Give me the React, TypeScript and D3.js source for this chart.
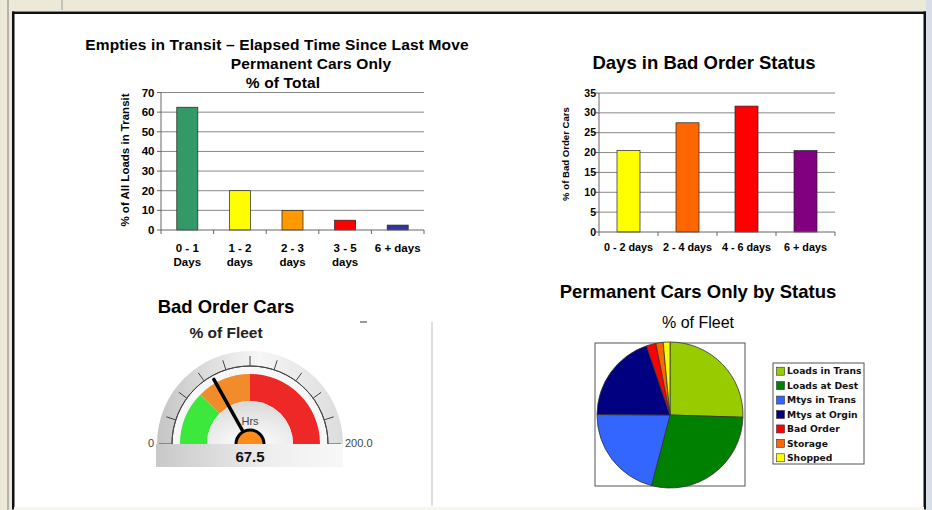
import React from "react";
import * as d3 from "d3";

// transit chart
const transitCats = ["0 - 1|Days", "1 - 2|days", "2 - 3|days", "3 - 5|days", "6 + days"];
const transitVals = [62.5, 20, 10, 5, 2.5];
const transitColors = ["#339966", "#FFFF00", "#FF9900", "#FF0000", "#333399"];
const transitTicks = [0, 10, 20, 30, 40, 50, 60, 70];

// bad order days chart
const badCats = ["0 - 2 days", "2 - 4 days", "4 - 6 days", "6 + days"];
const badVals = [20.5, 27.5, 31.7, 20.5];
const badColors = ["#FFFF00", "#FF6600", "#FF0000", "#800080"];
const badTicks = [0, 5, 10, 15, 20, 25, 30, 35];

// gauge
const gaugeValue = 67.5;
const gaugeMax = 200;
const gaugeBands = [
  { from: 0, to: 50, color: "#3DE83D" },
  { from: 50, to: 100, color: "#F28C2B" },
  { from: 100, to: 200, color: "#EE2727" },
];

// pie
const statusNames = ["Loads in Trans", "Loads at Dest", "Mtys in Trans", "Mtys at Orgin", "Bad Order", "Storage", "Shopped"];
const statusVals = [25.5, 28.6, 21.0, 19.7, 2.1, 1.6, 1.5];
const statusColors = ["#99CC00", "#008000", "#3366FF", "#000080", "#FF0000", "#FF6600", "#FFFF00"];

const F = "'Liberation Sans', Arial, sans-serif";

function TransitChart() {
  const xb = d3.scaleBand().domain(transitCats).range([161, 424]).paddingInner(0.6).paddingOuter(0.3);
  const xo = d3.scaleBand().domain(transitCats).range([161, 424]);
  const y = d3.scaleLinear().domain([0, 70]).range([230, 92.5]);
  return (
    <g fontFamily={F}>
      <text x={277} y={50} textAnchor="middle" fontSize={15.5} fontWeight="bold" letterSpacing={0.15}>Empties in Transit – Elapsed Time Since Last Move</text>
      <text x={311} y={69} textAnchor="middle" fontSize={15.5} fontWeight="bold" letterSpacing={0.15}>Permanent Cars Only</text>
      <text x={283} y={88} textAnchor="middle" fontSize={15.5} fontWeight="bold" letterSpacing={0.15}>% of Total</text>
      {transitTicks.map((t) => (
        <g key={t}>
          {t > 0 && <line x1={161} x2={424} y1={y(t)} y2={y(t)} stroke="#888" strokeWidth={1} />}
          <line x1={157} x2={161} y1={y(t)} y2={y(t)} stroke="#666" />
          <text x={154.5} y={y(t) + 4} textAnchor="end" fontSize={11.5} fontWeight="bold">{t}</text>
        </g>
      ))}
      {transitCats.map((c, i) => (
        <rect key={c} x={xb(c)} y={y(transitVals[i])} width={xb.bandwidth()} height={y(0) - y(transitVals[i])}
          fill={transitColors[i]} stroke="#222" strokeWidth={0.7} />
      ))}
      <line x1={161} x2={161} y1={92.5} y2={230} stroke="#666" />
      <line x1={161} x2={424} y1={230} y2={230} stroke="#666" />
      {[...transitCats.map((c) => xo(c) as number), 424].map((v, i) => (
        <line key={i} x1={v} x2={v} y1={230} y2={234} stroke="#666" />
      ))}
      {transitCats.map((c) => {
        const parts = c.split("|");
        const cx = (xo(c) as number) + xo.bandwidth() / 2;
        return (
          <text key={c} x={cx} textAnchor="middle" fontSize={11.5} fontWeight="bold">
            {parts.map((p, j) => (
              <tspan key={j} x={cx} y={252 + j * 14}>{p}</tspan>
            ))}
          </text>
        );
      })}
      <text transform="translate(129,160) rotate(-90)" textAnchor="middle" fontSize={11.5} fontWeight="bold">% of All Loads in Transit</text>
    </g>
  );
}

function BadOrderChart() {
  const xb = d3.scaleBand().domain(badCats).range([599, 835]).paddingInner(0.61).paddingOuter(0.305);
  const xo = d3.scaleBand().domain(badCats).range([599, 835]);
  const y = d3.scaleLinear().domain([0, 35]).range([232, 93]);
  return (
    <g fontFamily={F}>
      <text x={704} y={69} textAnchor="middle" fontSize={18.5} fontWeight="bold">Days in Bad Order Status</text>
      {badTicks.map((t) => (
        <g key={t}>
          {t > 0 && <line x1={599} x2={835} y1={y(t)} y2={y(t)} stroke="#888" />}
          <line x1={595} x2={599} y1={y(t)} y2={y(t)} stroke="#666" />
          <text x={596} y={y(t) + 3.5} textAnchor="end" fontSize={10.5} fontWeight="bold">{t}</text>
        </g>
      ))}
      {badCats.map((c, i) => (
        <rect key={c} x={xb(c)} y={y(badVals[i])} width={xb.bandwidth()} height={y(0) - y(badVals[i])}
          fill={badColors[i]} stroke="#222" strokeWidth={0.7} />
      ))}
      <line x1={599} x2={599} y1={93} y2={232} stroke="#666" />
      <line x1={599} x2={835} y1={232} y2={232} stroke="#666" />
      {[...badCats.map((c) => xo(c) as number), 835].map((v, i) => (
        <line key={i} x1={v} x2={v} y1={232} y2={236} stroke="#666" />
      ))}
      {badCats.map((c) => (
        <text key={c} x={(xo(c) as number) + xo.bandwidth() / 2} y={250.5} textAnchor="middle" fontSize={10.8} fontWeight="bold">{c}</text>
      ))}
      <text transform="translate(569,154) rotate(-90)" textAnchor="middle" fontSize={9.6} fontWeight="bold">% of Bad Order Cars</text>
    </g>
  );
}

function Gauge() {
  const cx = 250, cy = 444;
  const a = d3.scaleLinear().domain([0, gaugeMax]).range([-Math.PI / 2, Math.PI / 2]);
  const band = d3.arc<any>().innerRadius(43).outerRadius(70);
  const semi = (r: number) => d3.arc<any>()({ innerRadius: 0, outerRadius: r, startAngle: -Math.PI / 2, endAngle: Math.PI / 2 });
  const ticks = d3.range(0, gaugeMax + 1, 20);
  const na = a(gaugeValue);
  return (
    <g fontFamily={F}>
      <defs>
        <linearGradient id="bezel" x1="0" x2="1" y1="0" y2="0">
          <stop offset="0" stopColor="#c4c4c4" />
          <stop offset="0.55" stopColor="#f6f6f6" />
          <stop offset="1" stopColor="#dcdcdc" />
        </linearGradient>
        <radialGradient id="inner" cx="0.5" cy="1" r="1">
          <stop offset="0" stopColor="#ffffff" />
          <stop offset="1" stopColor="#d8d8d8" />
        </radialGradient>
        <linearGradient id="box" x1="0" x2="1" y1="0" y2="0">
          <stop offset="0" stopColor="#c8c8c8" />
          <stop offset="0.6" stopColor="#eeeeee" />
          <stop offset="1" stopColor="#f8f8f8" />
        </linearGradient>
      </defs>
      <text x={226} y={313} textAnchor="middle" fontSize={18.5} fontWeight="bold">Bad Order Cars</text>
      <text x={226} y={338} textAnchor="middle" fontSize={15.5} fontWeight="bold" fill="#222">% of Fleet</text>
      <line x1={360} x2={367} y1={322} y2={322} stroke="#777" strokeWidth={1.5} />
      <g transform={`translate(${cx},${cy})`}>
        <path d={semi(93) as string} fill="url(#bezel)" />
        <path d={semi(78) as string} fill="#f7f7f7" />
        <path d={d3.arc<any>()({ innerRadius: 78, outerRadius: 78, startAngle: -Math.PI / 2, endAngle: Math.PI / 2 }) as string} fill="none" stroke="#444" strokeWidth={1} />
        {ticks.map((t) => {
          const ang = a(t);
          const s = Math.sin(ang), c = -Math.cos(ang);
          const r2 = t === 0 || t === gaugeMax ? 91 : 88;
          return <line key={t} x1={78 * s} y1={78 * c} x2={r2 * s} y2={r2 * c} stroke="#444" strokeWidth={1} />;
        })}
        {gaugeBands.map((b) => (
          <path key={b.from} d={band({ startAngle: a(b.from), endAngle: a(b.to) }) as string} fill={b.color} />
        ))}
        <path d={semi(43) as string} fill="url(#inner)" />
        <text x={0} y={-19} textAnchor="middle" fontSize={11} fill="#444">Hrs</text>
        <line x1={0} y1={0} x2={74 * Math.sin(na)} y2={-74 * Math.cos(na)} stroke="#000" strokeWidth={3.5} strokeLinecap="round" />
        <circle r={14} fill="#FF8C1A" stroke="#000" strokeWidth={3} />
      </g>
      <rect x={156} y={cy} width={187} height={23} fill="url(#box)" />
      <text x={cx} y={cy + 18} textAnchor="middle" fontSize={15} fontWeight="bold" fill="#111">{gaugeValue.toFixed(1)}</text>
      <text x={151} y={cy + 3} textAnchor="middle" fontSize={11} fill="#444">0</text>
      <text x={345} y={cy + 3} fontSize={11} fill="#444">200.0</text>
    </g>
  );
}

function StatusPie() {
  const cx = 670, cy = 415, r = 73;
  const pie = d3.pie<number>().sort(null)(statusVals);
  const arc = d3.arc<d3.PieArcDatum<number>>().innerRadius(0).outerRadius(r);
  const ly = d3.scaleBand().domain(statusNames).range([364, 465]);
  return (
    <g fontFamily={F}>
      <text x={698} y={298} textAnchor="middle" fontSize={18.5} fontWeight="bold">Permanent Cars Only by Status</text>
      <text x={698} y={328} textAnchor="middle" fontSize={16}>% of Fleet</text>
      <rect x={595} y={343} width={150} height={143} fill="#fff" stroke="#555" strokeWidth={1} />
      <g transform={`translate(${cx},${cy})`}>
        {pie.map((p, i) => (
          <path key={i} d={arc(p) as string} fill={statusColors[i]} stroke="#333" strokeWidth={0.8} />
        ))}
      </g>
      <rect x={773} y={363} width={91} height={101} fill="#fff" stroke="#555" strokeWidth={1} />
      {statusNames.map((n, i) => {
        const yy = (ly(n) as number) + ly.bandwidth() / 2;
        return (
          <g key={n}>
            <rect x={776.5} y={yy - 4} width={8} height={8} fill={statusColors[i]} stroke="#333" strokeWidth={0.6} />
            <text x={787} y={yy + 3.2} fontSize={9.2} fontWeight="bold" fontFamily="'DejaVu Sans', sans-serif" fill="#111">{n}</text>
          </g>
        );
      })}
    </g>
  );
}

export default function App() {
  return (
    <svg width={932} height={510} style={{ position: "absolute", left: 0, top: 0, background: "#fff" }}>
      <rect x={0} y={0} width={932} height={11} fill="#ECE9D8" />
      <rect x={0} y={0} width={12} height={510} fill="#ECE9D8" />
      <line x1={8} x2={8} y1={0} y2={510} stroke="#a8a0a0" strokeWidth={1.5} />
      <line x1={62} x2={62} y1={0} y2={10} stroke="#999" />
      <rect x={926} y={0} width={6} height={510} fill="#D8DEE8" />
      <rect x={12} y={11.5} width={914} height={2.5} fill="#111" />
      <rect x={12} y={11.5} width={2.5} height={498} fill="#111" />
      <rect x={923.5} y={11.5} width={2.5} height={498} fill="#111" />
      <rect x={14} y={507} width={910} height={3} fill="#F6F6EC" />
      <line x1={432} x2={432} y1={322} y2={506} stroke="#c8c8c8" strokeWidth={1.2} />
      <TransitChart />
      <BadOrderChart />
      <Gauge />
      <StatusPie />
    </svg>
  );
}
